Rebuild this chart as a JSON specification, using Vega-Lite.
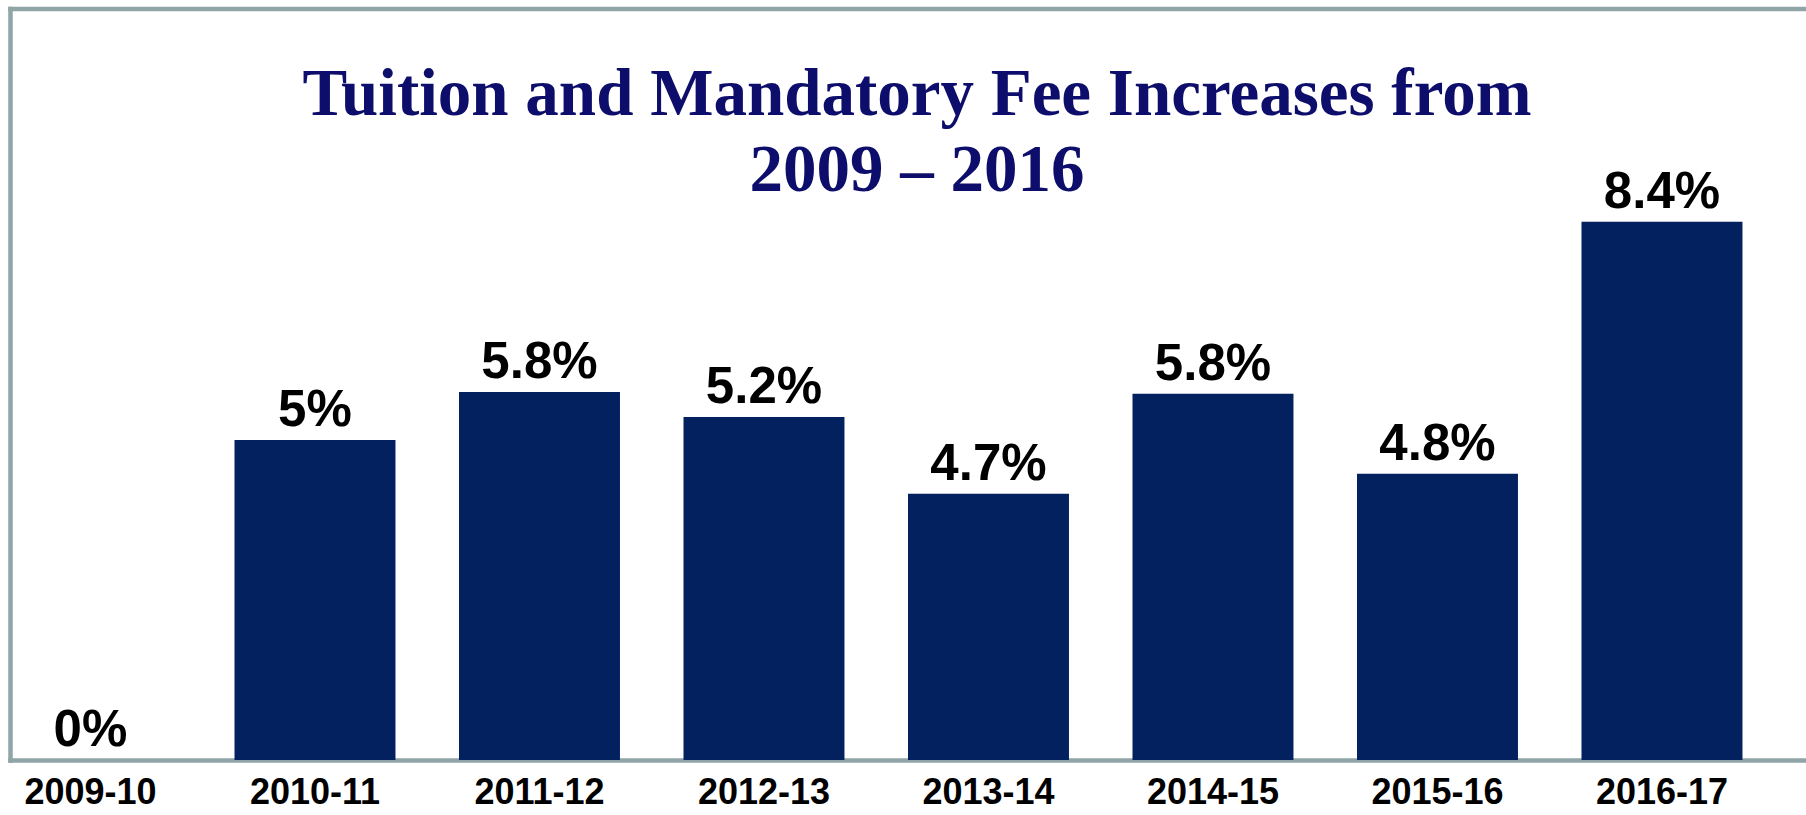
{
  "$schema": "https://vega.github.io/schema/vega-lite/v6.json",
  "width": 1796,
  "height": 751.5,
  "autosize": {"type": "none"},
  "padding": {"left": 10, "top": 8.5, "right": 0, "bottom": 55},
  "background": "white",
  "title": {
    "text": ["Tuition and Mandatory Fee Increases from", "2009 – 2016"],
    "font": "Liberation Serif",
    "fontSize": 67,
    "fontWeight": "bold",
    "color": "#0D0D6B",
    "lineHeight": 76,
    "anchor": "middle",
    "offset": -249,
    "dx": 9,
    "baseline": "alphabetic"
  },
  "config": {"view": {"stroke": null}},
  "data": {
    "values": [
      {"year": "2009-10", "pct": 0, "label": "0%"},
      {"year": "2010-11", "pct": 5.0, "label": "5%"},
      {"year": "2011-12", "pct": 5.75, "label": "5.8%"},
      {"year": "2012-13", "pct": 5.36, "label": "5.2%"},
      {"year": "2013-14", "pct": 4.16, "label": "4.7%"},
      {"year": "2014-15", "pct": 5.72, "label": "5.8%"},
      {"year": "2015-16", "pct": 4.47, "label": "4.8%"},
      {"year": "2016-17", "pct": 8.41, "label": "8.4%"}
    ]
  },
  "encoding": {
    "y": {
      "field": "pct",
      "type": "quantitative",
      "scale": {"domain": [0, 11.74], "nice": false},
      "axis": {"title": null, "labels": false, "ticks": false, "grid": false, "domain": true, "domainColor": "#8FA5A7", "domainWidth": 4.5, "domainCap": "square"}
    }
  },
  "layer": [
    {
      "mark": {"type": "bar", "color": "#03215F"},
      "encoding": {
        "x": {
          "field": "year",
          "type": "nominal",
          "sort": null,
          "scale": {"paddingInner": 0.283, "paddingOuter": 0.1415, "align": 0},
          "axis": {"title": null, "labelAngle": 0, "ticks": false, "tickSize": 0, "labelPadding": 15, "labelFont": "Liberation Sans", "labelFontWeight": "bold", "labelFontSize": 36, "labelColor": "#000000", "domainColor": "#8FA5A7", "domainWidth": 4.5, "domainCap": "square", "grid": false}
        }
      }
    },
    {
      "mark": {"type": "text", "font": "Liberation Sans", "fontWeight": "bold", "fontSize": 51, "dy": -14, "baseline": "alphabetic", "color": "#000000"},
      "encoding": {
        "x": {
          "field": "year",
          "type": "nominal",
          "sort": null,
          "axis": {"orient": "top", "title": null, "labels": false, "ticks": false, "grid": false, "domain": true, "domainColor": "#8FA5A7", "domainWidth": 4.5, "domainCap": "square"}
        },
        "text": {"field": "label"}
      }
    }
  ],
  "resolve": {"axis": {"x": "independent"}}
}
